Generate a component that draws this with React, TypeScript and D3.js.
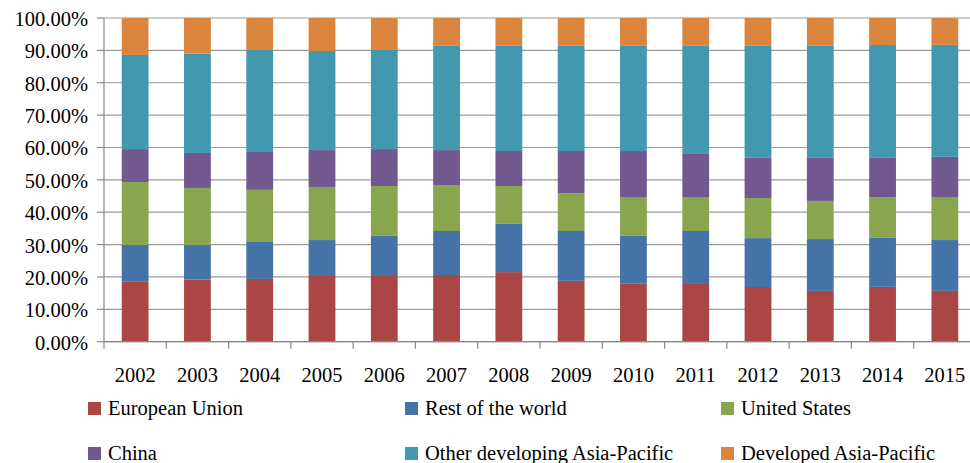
import React from "react";
import * as d3 from "d3";

const years = ["2002","2003","2004","2005","2006","2007","2008","2009","2010","2011","2012","2013","2014","2015"];
const seriesNames = ["European Union","Rest of the world","United States","China","Other developing Asia-Pacific","Developed Asia-Pacific"];
const europeanUnion = [18.5,19.2,19.4,20.3,20.3,20.6,21.5,18.8,17.9,18.1,16.9,15.7,16.9,15.7];
const restOfWorld = [11.4,10.7,11.4,11.1,12.4,13.6,14.9,15.4,14.8,16.1,15.1,16.0,15.1,15.7];
const unitedStates = [19.4,17.6,16.1,16.4,15.4,14.2,11.7,11.7,12.0,10.5,12.4,11.8,12.4,13.3];
const china = [10.2,10.8,11.7,11.4,11.4,10.8,10.8,13.0,14.2,13.3,12.4,13.3,12.4,12.4];
const otherDevAsia = [29.1,30.7,31.5,30.6,30.6,32.2,32.5,32.5,32.5,33.4,34.6,34.6,34.6,34.6];
const developedAsia = [11.4,11.0,9.9,10.2,9.9,8.6,8.6,8.6,8.6,8.6,8.6,8.6,8.3,8.3];
const yTicks = [0,10,20,30,40,50,60,70,80,90,100];
const colors = ["#AA4643","#4572A7","#89A54E","#71588F","#4198AF","#DB843D"];

const W = 970, H = 463;
const left = 104, right = 976, top = 18, bottom = 341.7;
const font = "'Liberation Serif', 'Times New Roman', serif";

export default function App() {
  const allSeries = [europeanUnion, restOfWorld, unitedStates, china, otherDevAsia, developedAsia];
  const rows = years.map((y, i) => {
    const r: any = { year: y };
    seriesNames.forEach((n, k) => { r[n] = allSeries[k][i]; });
    return r;
  });
  const stacked = d3.stack<any>().keys(seriesNames).offset(d3.stackOffsetExpand)(rows);
  const x = d3.scaleBand().domain(years).range([left, right]).paddingInner(0.57).paddingOuter(0.285);
  const step = (right - left) / years.length;
  const y = d3.scaleLinear().domain([0, 1]).range([bottom, top]);
  const yPct = d3.scaleLinear().domain([0, 100]).range([bottom, top]);

  const legendPos = [
    [88, 402], [405, 402], [721, 402],
    [88, 447], [405, 447], [721, 447],
  ];

  return (
    <svg width={W} height={H} style={{ position: "absolute", left: 0, top: 0, background: "#fff" }}>
      {yTicks.map((t) => (
        <line key={"g" + t} x1={left} x2={W} y1={yPct(t)} y2={yPct(t)} stroke="#9a9a9a" strokeWidth={1.2} />
      ))}
      {stacked.map((s, k) => (
        <g key={s.key} fill={colors[k]}>
          {s.map((d, i) => (
            <rect key={i} x={x(years[i])} width={x.bandwidth()} y={y(d[1])} height={y(d[0]) - y(d[1])} />
          ))}
        </g>
      ))}
      <line x1={left} x2={left} y1={top} y2={bottom} stroke="#888" strokeWidth={1.2} />
      <line x1={left} x2={W} y1={bottom} y2={bottom} stroke="#888" strokeWidth={1.2} />
      {yTicks.map((t) => (
        <g key={"t" + t}>
          <line x1={left - 7} x2={left} y1={yPct(t)} y2={yPct(t)} stroke="#888" strokeWidth={1.2} />
          <text x={88} y={yPct(t) + 8} textAnchor="end" fontFamily={font} fontSize={20.5} fill="#000">
            {t.toFixed(2) + "%"}
          </text>
        </g>
      ))}
      {d3.range(years.length + 1).map((i) => (
        <line key={"xt" + i} x1={left + i * step} x2={left + i * step} y1={bottom} y2={bottom + 7} stroke="#888" strokeWidth={1.2} />
      ))}
      {years.map((yr) => (
        <text key={yr} x={(x(yr) as number) + x.bandwidth() / 2} y={381.7} textAnchor="middle" fontFamily={font} fontSize={20.5} fill="#000">
          {yr}
        </text>
      ))}
      {seriesNames.map((n, k) => (
        <g key={n}>
          <rect x={legendPos[k][0]} y={legendPos[k][1]} width={13} height={13} fill={colors[k]} />
          <text x={legendPos[k][0] + 20} y={legendPos[k][1] + 13} fontFamily={font} fontSize={20.5} fill="#000">
            {n}
          </text>
        </g>
      ))}
    </svg>
  );
}
